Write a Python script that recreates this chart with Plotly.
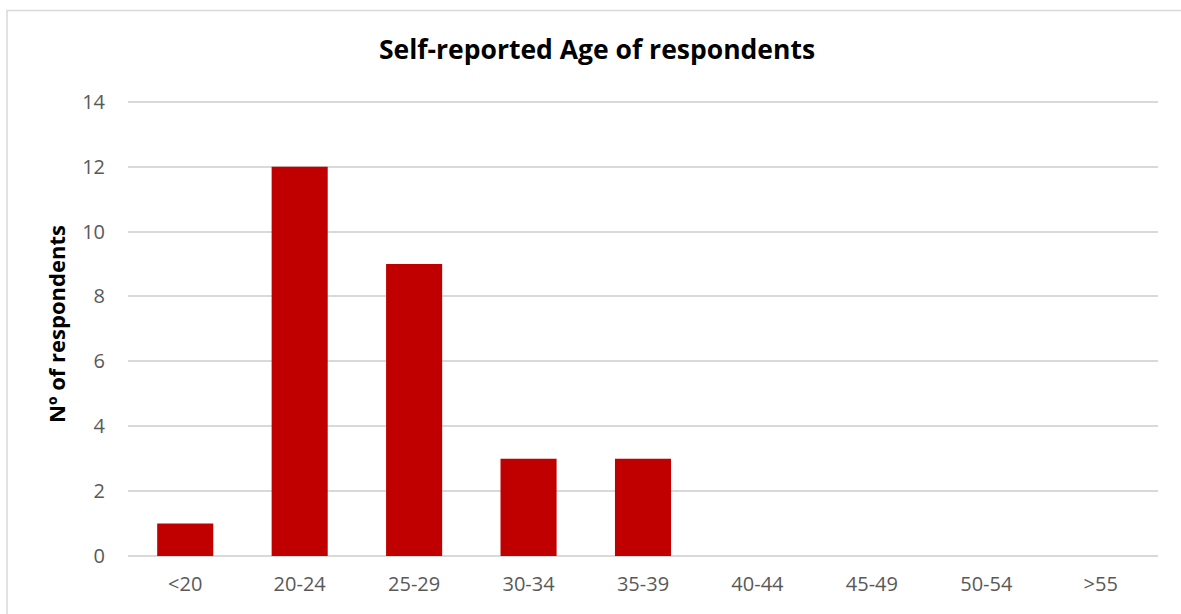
import plotly.graph_objects as go

# Survey counts by age band
age_groups = ["<20", "20-24", "25-29", "30-34", "35-39", "40-44", "45-49", "50-54", ">55"]
respondents = [1, 12, 9, 3, 3, 0, 0, 0, 0]
y_ticks = [0, 2, 4, 6, 8, 10, 12, 14]

W, H = 1181, 614
y_top_px, y_zero_px = 102, 556          # pixel rows of the 14 and 0 gridlines
L, R, B = 128, 23, H - y_zero_px
y_max = 14.3                            # headroom so the top gridline is drawn
T = round(y_top_px - (y_max - 14) * (y_zero_px - y_top_px) / 14)

fig = go.Figure(
    go.Bar(
        x=age_groups,
        y=respondents,
        marker=dict(color="#C00000", line=dict(width=0)),
        width=0.49,
    )
)

font_family = "Open Sans, Liberation Sans, sans-serif"
pw = W - L - R
ph = H - T - B

fig.update_layout(
    width=W,
    height=H,
    margin=dict(l=L, r=R, t=T, b=B),
    paper_bgcolor="white",
    plot_bgcolor="white",
    showlegend=False,
    font=dict(family=font_family, color="#595959", size=20),
    title=dict(
        text="<b>Self-reported Age of respondents</b>",
        xref="container",
        x=597 / W,
        xanchor="center",
        y=1 - 50 / H,
        yanchor="middle",
        font=dict(family=font_family, size=26.5, color="black"),
    ),
    xaxis=dict(
        showgrid=False,
        showline=False,
        ticks="",
        ticklen=0,
        ticklabelstandoff=14,
        tickfont=dict(size=20, color="#595959"),
    ),
    yaxis=dict(
        range=[0, y_max],
        tickvals=y_ticks,
        showgrid=True,
        gridcolor="#D9D9D9",
        gridwidth=1.5,
        zeroline=True,
        zerolinecolor="#D9D9D9",
        zerolinewidth=1.5,
        showline=False,
        ticks="",
        ticklabelstandoff=22,
        tickfont=dict(size=20, color="#595959"),
        title=dict(
            text="<b>Nº of respondents</b>",
            font=dict(size=22, color="black"),
            standoff=10,
        ),
    ),
    shapes=[
        # chart frame
        dict(
            type="rect",
            xref="paper",
            yref="paper",
            x0=(7 - L) / pw,
            x1=(W + 5 - L) / pw,
            y0=-(B + 10) / ph,
            y1=1 + (T - 10.5) / ph,
            line=dict(color="#D9D9D9", width=1.5),
            fillcolor="rgba(0,0,0,0)",
            layer="below",
        )
    ],
)

fig.write_html("out.html")
